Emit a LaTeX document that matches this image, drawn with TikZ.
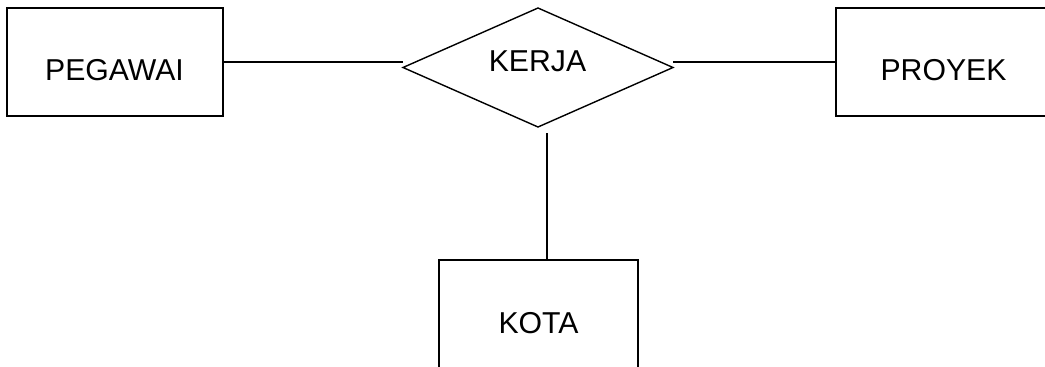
\documentclass[tikz,border=0pt]{standalone}
\usepackage{fontspec}
\setmainfont{Liberation Sans}
\usetikzlibrary{shapes.geometric}
\begin{document}
\begin{tikzpicture}[x=1pt,y=-1pt,
  line width=1.4pt,
  entity/.style={draw, rectangle, inner sep=0pt, outer sep=0pt, minimum width=216pt, minimum height=108pt},
  relation/.style={draw, diamond, inner sep=0pt, outer sep=0pt, minimum width=270pt, minimum height=119pt},
  lbl/.style={anchor=base, inner sep=0pt, font=\fontsize{30.2}{36}\selectfont},
  conn/.style={draw, line width=1.3pt}]
\useasboundingbox (0,0) rectangle (1045,367);
\begin{scope}
\clip (0,0) rectangle (1045,367);
\node[entity] (peg) at (115,62) {};
\node[entity] (proy) at (944,62) {};
\node[entity, minimum width=199pt] (kota) at (538.5,314) {};
\node[relation] (kerja) at (538,67.5) {};
\end{scope}
\node[lbl] (pegt) at (114.5,80) {PEGAWAI};
\node[lbl] (proyt) at (943.5,80) {PROYEK};
\node[lbl] (kotat) at (538.5,333) {KOTA};
\node[lbl] (kerjat) at (537.5,71) {KERJA};
\coordinate (vtop) at (547,133);
\coordinate (vbot) at (547,260);
\draw[conn] (peg.east) -- (peg.east -| kerja.west);
\draw[conn] (kerja.east |- proy.west) -- (proy.west);
\draw[conn] (vtop) -- (vbot);
\end{tikzpicture}
\end{document}
